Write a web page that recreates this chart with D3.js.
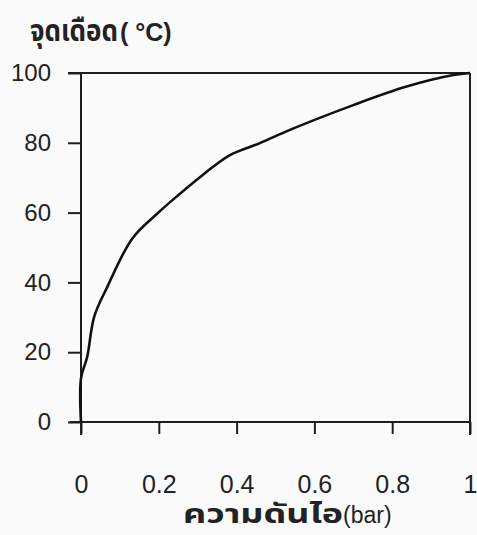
<!DOCTYPE html>
<html>
<head>
<meta charset="utf-8">
<script src="https://cdn.jsdelivr.net/npm/d3@7"></script>
<style>
  html, body { margin: 0; padding: 0; background: #fafafa; }
  svg { display: block; }
</style>
</head>
<body>
<svg id="chart" width="477" height="535"></svg>
<script>
// Boiling point of water against vapour pressure
const pressure = [0, 0.0, 0.016, 0.034, 0.068, 0.132, 0.197, 0.229, 0.313, 0.383, 0.46, 0.537, 0.70, 0.837, 0.957, 1.0];
const boilingPoint = [0, 12.5, 18.7, 30.2, 38.8, 52.6, 59.8, 63.0, 70.8, 76.5, 79.9, 83.7, 90.8, 96.1, 99.4, 100];

const xTicks = [0, 0.2, 0.4, 0.6, 0.8, 1];
const xTickLabels = ["0", "0.2", "0.4", "0.6", "0.8", "1"];
const yTicks = [0, 20, 40, 60, 80, 100];
const yTickLabels = ["0", "20", "40", "60", "80", "100"];

const yTitleThai = "จุดเดือด";
const yTitleUnit = "( °C)";
const xTitleThai = "ความดันไอ";
const xTitleUnit = "(bar)";

const svg = d3.select("#chart");
const ink = "#1e1e1e";
const thaiFont = "'Noto Sans Thai', 'Noto Sans Thai UI', Tahoma, 'Leelawadee UI', sans-serif";
const numFont = "'Liberation Sans', Arial, sans-serif";

const x = d3.scaleLinear().domain([0, 1]).range([81, 470]);
const y = d3.scaleLinear().domain([0, 100]).range([422, 73]);

// y axis ticks and labels
const yAxis = d3.axisLeft(y)
  .tickValues(yTicks)
  .tickFormat((d, i) => yTickLabels[i])
  .tickSize(13)
  .tickSizeOuter(0)
  .tickPadding(17);
const gy = svg.append("g").attr("transform", `translate(${x(0)},0)`).call(yAxis);
gy.select(".domain").remove();
gy.selectAll(".tick line").attr("stroke", ink).attr("stroke-width", 2);
gy.selectAll(".tick text")
  .attr("fill", "#222")
  .style("font-family", numFont)
  .style("font-size", "24px");

// x axis ticks and labels
const xAxis = d3.axisBottom(x)
  .tickValues(xTicks)
  .tickFormat((d, i) => xTickLabels[i])
  .tickSize(12)
  .tickSizeOuter(0)
  .tickPadding(41);
const gx = svg.append("g").attr("transform", `translate(0,${y(0)})`).call(xAxis);
gx.select(".domain").remove();
gx.selectAll(".tick line").attr("stroke", ink).attr("stroke-width", 2);
gx.selectAll(".tick text")
  .attr("fill", "#222")
  .style("font-family", numFont)
  .style("font-size", "25px");

// frame lines: axes extend past the origin, top line continues the 100 tick
const frame = svg.append("g").attr("stroke", ink).attr("stroke-width", 2).attr("fill", "none");
frame.append("line").attr("x1", x(0)).attr("x2", x(0)).attr("y1", y(100)).attr("y2", y(0) + 13);
frame.append("line").attr("x1", x(0) - 11).attr("x2", x(1)).attr("y1", y(0)).attr("y2", y(0));
frame.append("line").attr("x1", x(0) - 13).attr("x2", x(1)).attr("y1", y(100)).attr("y2", y(100));
frame.append("line").attr("x1", x(1)).attr("x2", x(1)).attr("y1", y(100)).attr("y2", y(0) + 13);

// boiling point curve
const line = d3.line()
  .x((d, i) => x(pressure[i]))
  .y((d, i) => y(boilingPoint[i]))
  .curve(d3.curveCatmullRom.alpha(0.5));
svg.append("path")
  .datum(pressure)
  .attr("d", line)
  .attr("fill", "none")
  .attr("stroke", "#111")
  .attr("stroke-width", 2.6)
  .attr("stroke-linejoin", "round");

// y axis title (top left)
svg.append("text")
  .attr("x", 30)
  .attr("y", 41)
  .attr("fill", "#222")
  .style("font-family", thaiFont)
  .style("font-size", "30px")
  .style("font-weight", "bold")
  .attr("textLength", 88)
  .attr("lengthAdjust", "spacingAndGlyphs")
  .text(yTitleThai);
svg.append("text")
  .attr("x", 120)
  .attr("y", 41)
  .attr("fill", "#222")
  .style("font-family", numFont)
  .style("font-size", "25px")
  .style("font-weight", "bold")
  .text(yTitleUnit);

// x axis title (bottom)
svg.append("text")
  .attr("x", 183)
  .attr("y", 523)
  .attr("fill", "#222")
  .style("font-family", thaiFont)
  .style("font-size", "26px")
  .style("font-weight", "bold")
  .attr("textLength", 160)
  .attr("lengthAdjust", "spacingAndGlyphs")
  .text(xTitleThai);
svg.append("text")
  .attr("x", 343)
  .attr("y", 523)
  .attr("fill", "#222")
  .style("font-family", numFont)
  .style("font-size", "23px")
  .text(xTitleUnit);
</script>
</body>
</html>
